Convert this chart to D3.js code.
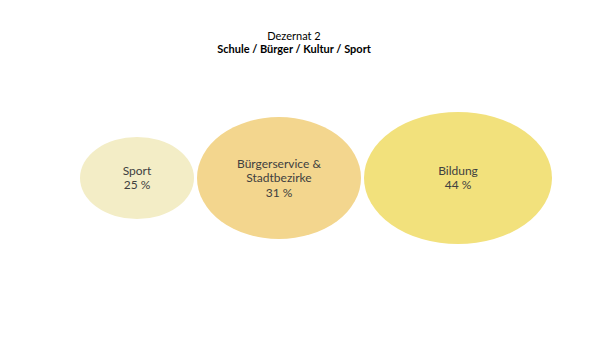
<!DOCTYPE html>
<html>
<head>
<meta charset="utf-8">
<script src="https://cdn.jsdelivr.net/npm/d3@7"></script>
<style>
  html, body { margin: 0; padding: 0; background: #ffffff; }
  svg { display: block; }
</style>
</head>
<body>
<svg id="chart" width="600" height="338"></svg>
<script>
// Shares of the department budget, one bubble per area
const categories = ["Sport", "Bürgerservice &\nStadtbezirke", "Bildung"];
const shares = [25, 31, 44];
const fills = ["#F3EDC6", "#F3D68E", "#F2E17C"];
const titleLines = ["Dezernat 2", "Schule / Bürger / Kultur / Sport"];

const svg = d3.select("#chart");
const font = "Lato, 'Open Sans', sans-serif";

// Bubble size scales (horizontal and vertical radii)
const rxScale = d3.scaleLinear().domain([25, 31, 44]).range([57, 82, 94]);
const ryScale = d3.scaleLinear().domain([25, 31, 44]).range([41, 61, 66]);

// Lay bubbles out side by side with a small gap
const startX = 80, gap = 3, cy = 178;
let cursor = startX;
const nodes = shares.map((v, i) => {
  const rx = rxScale(v), ry = ryScale(v);
  const cx = cursor + rx;
  cursor += 2 * rx + gap;
  return { name: categories[i], value: v, rx, ry, cx, cy, fill: fills[i] };
});

// Title
svg.append("text")
  .attr("x", 294).attr("y", 40)
  .attr("text-anchor", "middle")
  .attr("font-family", font).attr("font-size", 11)
  .attr("fill", "#000")
  .text(titleLines[0]);
svg.append("text")
  .attr("x", 294).attr("y", 53)
  .attr("text-anchor", "middle")
  .attr("font-family", font).attr("font-size", 11).attr("font-weight", "bold")
  .attr("fill", "#000")
  .text(titleLines[1]);

const g = svg.selectAll("g.bubble").data(nodes).join("g").attr("class", "bubble");

g.append("ellipse")
  .attr("cx", d => d.cx).attr("cy", d => d.cy)
  .attr("rx", d => d.rx).attr("ry", d => d.ry)
  .attr("fill", d => d.fill);

g.each(function(d) {
  const lines = d.name.split("\n").concat([d.value + " %"]);
  const lh = 14.5;
  const y0 = d.cy - (lines.length - 1) * lh / 2 + 4;
  const t = d3.select(this).append("text")
    .attr("text-anchor", "middle")
    .attr("font-family", font).attr("font-size", 12)
    .attr("fill", "#404040");
  lines.forEach((ln, i) => {
    t.append("tspan").attr("x", d.cx).attr("y", y0 + i * lh).text(ln);
  });
});
</script>
</body>
</html>
